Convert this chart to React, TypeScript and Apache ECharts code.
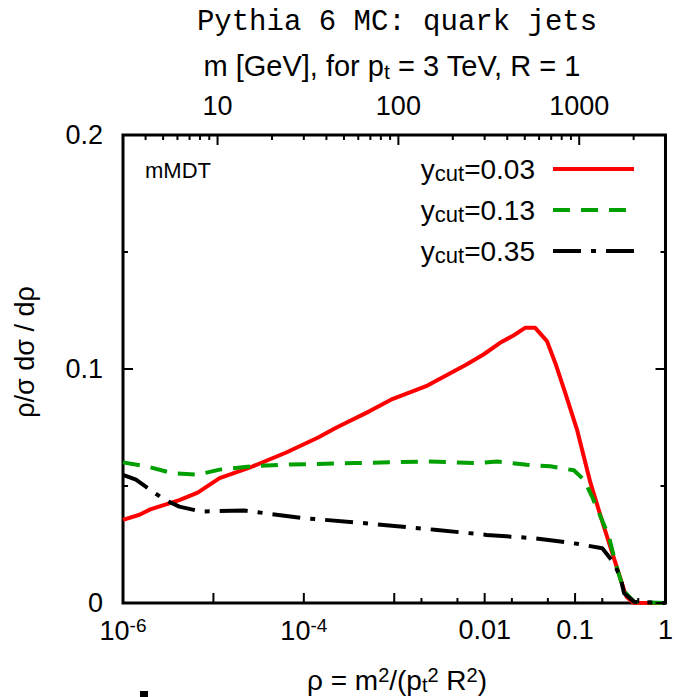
import React, { useEffect, useRef } from 'react';
import * as echarts from 'echarts';

// ---- data (rho = m^2/(pt^2 R^2), value = rho/sigma dsigma/drho) ----
const rhoRed = [1e-6, 1.52e-6, 2.0e-6, 4.2e-6, 6.7e-6, 1.17e-5, 2.46e-5, 6.3e-5, 1.44e-4, 2.3e-4, 5.3e-4, 9.2e-4, 2.33e-3, 6.3e-3, 9.7e-3, 1.48e-2, 2.08e-2, 2.8e-2, 3.62e-2, 4.89e-2, 6.04e-2, 7.8e-2, 0.105, 0.148, 0.208, 0.28, 0.348, 0.37, 0.44, 1];
const valRed = [0.0355, 0.0377, 0.040, 0.044, 0.0472, 0.0534, 0.0577, 0.0642, 0.0707, 0.075, 0.0819, 0.0869, 0.0929, 0.1019, 0.1062, 0.1112, 0.1143, 0.1176, 0.1176, 0.1119, 0.1026, 0.0897, 0.0741, 0.0513, 0.0327, 0.017, 0.0056, 0.0027, 0.0001, 0];

const rhoGreen = [1e-6, 1.83e-6, 3.5e-6, 6.7e-6, 1.17e-5, 2.7e-5, 5.65e-5, 3.66e-4, 2.33e-3, 8.5e-3, 1.36e-2, 2.93e-2, 5.3e-2, 9.7e-2, 0.125, 0.154, 0.191, 0.237, 0.28, 0.348, 0.45, 1];
const valGreen = [0.0601, 0.0584, 0.0555, 0.0548, 0.057, 0.0584, 0.0591, 0.0598, 0.0605, 0.0598, 0.0605, 0.0591, 0.0584, 0.0567, 0.0527, 0.0455, 0.037, 0.0284, 0.017, 0.005, 0.0005, 0];

const rhoBlack = [1e-6, 1.39e-6, 2.88e-6, 4.2e-6, 7.3e-6, 2.2e-5, 9.8e-5, 4.8e-4, 2.8e-3, 1.05e-2, 3.47e-2, 6.88e-2, 0.105, 0.2, 0.27, 0.32, 0.348, 0.45, 1];
const valBlack = [0.0548, 0.0527, 0.0441, 0.0412, 0.0391, 0.0395, 0.0363, 0.0341, 0.0313, 0.0291, 0.0277, 0.0263, 0.0253, 0.0234, 0.017, 0.0105, 0.0042, 0.0005, 0];

const seriesNames = ['0.03', '0.13', '0.35'];

// ---- axis ticks / labels ----
const bottomMajorTicks = [1e-6, 1e-5, 1e-4, 1e-3, 1e-2, 1e-1, 1];
const bottomMinorTicks = [2e-3, 5e-3, 2e-2, 5e-2, 0.2, 0.5];
const bottomLabelValues = [1e-6, 1e-4, 1e-2, 1e-1, 1];
const bottomLabelTexts = ['{b|10}{e|-6}', '{b|10}{e|-4}', '0.01', '0.1', '1'];
const PT = 3000; // GeV
const R = 1;
const topMajorMass = [10, 100, 1000];
const topMinorMass = [4, 5, 6, 7, 8, 9, 20, 30, 40, 50, 60, 70, 80, 90, 200, 300, 400, 500, 600, 700, 800, 900, 2000];
const yMajorTicks = [0, 0.1, 0.2];
const yMinorTicks = [0.05, 0.15];
const yLabels = ['0', '0.1', '0.2'];

const lg = (v: number) => Math.round(Math.log10(v) * 1e9) / 1e9;
const massToLogRho = (m: number) => Math.round(2 * Math.log10(m / (PT * R)) * 1e9) / 1e9;

const FONT = 'Liberation Sans, Arial, sans-serif';
const MAJOR = 10;
const MINOR = 5;

export default function App() {
  const ref = useRef<HTMLDivElement>(null);
  useEffect(() => {
    if (!ref.current) return;
    const chart = echarts.init(ref.current, null, { renderer: 'svg' });
    const bottomLabelLog = bottomLabelValues.map(lg);
    const topLog = topMajorMass.map(massToLogRho);

    // tick marks: [x(log rho), y, dx px, dy px]
    const ticks: number[][] = [];
    bottomMajorTicks.forEach((v) => { ticks.push([lg(v), 0, 0, -MAJOR]); });
    bottomMinorTicks.forEach((v) => { ticks.push([lg(v), 0, 0, -MINOR]); });
    topMajorMass.forEach((m) => { ticks.push([massToLogRho(m), 0.2, 0, MAJOR]); });
    topMinorMass.forEach((m) => { ticks.push([massToLogRho(m), 0.2, 0, MINOR]); });
    yMajorTicks.forEach((y) => { ticks.push([-6, y, MAJOR, 0]); ticks.push([0, y, -MAJOR, 0]); });
    yMinorTicks.forEach((y) => { ticks.push([-6, y, MINOR, 0]); ticks.push([0, y, -MINOR, 0]); });

    const option: any = {
      animation: false,
      grid: { left: 123, right: 8, top: 135, bottom: 94, show: true, borderColor: '#000', borderWidth: 3, backgroundColor: 'transparent' },
      xAxis: [
        {
          type: 'value', position: 'bottom', min: -6, max: 0,
          axisLine: { show: false }, splitLine: { show: false }, axisTick: { show: false },
          axisLabel: {
            show: true, customValues: bottomLabelLog, margin: 13, color: '#000', fontFamily: FONT, fontSize: 27,
            formatter: (v: number) => {
              let idx = 0; let best = Infinity;
              bottomLabelLog.forEach((b, i) => { if (Math.abs(b - v) < best) { best = Math.abs(b - v); idx = i; } });
              return bottomLabelTexts[idx];
            },
            rich: {
              b: { fontSize: 27, lineHeight: 30, fontFamily: FONT, color: '#000' },
              e: { fontSize: 19, lineHeight: 16, verticalAlign: 'top', fontFamily: FONT, color: '#000' },
            },
          },
        },
        {
          type: 'value', position: 'top', min: -6, max: 0,
          axisLine: { show: false }, splitLine: { show: false }, axisTick: { show: false },
          axisLabel: {
            show: true, customValues: topLog, margin: 16, color: '#000', fontFamily: FONT, fontSize: 27,
            formatter: (v: number) => String(Math.round(PT * R * Math.pow(10, v / 2))),
          },
        },
      ],
      yAxis: [
        {
          type: 'value', position: 'left', min: 0, max: 0.2, interval: 0.1,
          axisLine: { show: false }, splitLine: { show: false }, axisTick: { show: false },
          axisLabel: {
            show: true, margin: 20, color: '#000', fontFamily: FONT, fontSize: 27,
            formatter: (v: number) => yLabels[Math.round(v * 10)],
          },
        },
      ],
      legend: {
        orient: 'vertical', right: 40, top: 155, align: 'right', padding: 0,
        itemWidth: 81, itemHeight: 14, itemGap: 12,
        lineStyle: { width: 4 },
        itemStyle: { opacity: 0 },
        textStyle: {
          color: '#000', fontFamily: FONT, fontSize: 28, padding: [0, 13, 0, 0],
          rich: {
            y: { fontSize: 28, lineHeight: 30, fontFamily: FONT, color: '#000' },
            s: { fontSize: 22, lineHeight: 16, verticalAlign: 'bottom', fontFamily: FONT, color: '#000' },
            v: { fontSize: 28, lineHeight: 30, fontFamily: FONT, color: '#000' },
          },
        },
        formatter: (name: string) => '{y|y}{s|cut}{v|=' + name + '}',
        data: seriesNames,
      },
      series: [
        {
          name: seriesNames[0], type: 'line', symbol: 'none', showSymbol: false,
          lineStyle: { color: '#ff0000', width: 4 }, itemStyle: { color: '#ff0000' },
          data: rhoRed.map((r, i) => [Math.log10(r), valRed[i]]), z: 3,
        },
        {
          name: seriesNames[1], type: 'line', symbol: 'none', showSymbol: false,
          lineStyle: { color: '#00a000', width: 4, type: [17, 11] }, itemStyle: { color: '#00a000' },
          data: rhoGreen.map((r, i) => [Math.log10(r), valGreen[i]]), z: 4,
        },
        {
          name: seriesNames[2], type: 'line', symbol: 'none', showSymbol: false,
          lineStyle: { color: '#000000', width: 4, type: [28, 10, 5, 10] }, itemStyle: { color: '#000000' },
          data: rhoBlack.map((r, i) => [Math.log10(r), valBlack[i]]), z: 5,
        },
        {
          name: 'ticks', type: 'custom', z: 6, silent: true, clip: false,
          data: ticks,
          encode: { x: 0, y: 1 },
          renderItem: (params: any, api: any) => {
            const p = api.coord([api.value(0), api.value(1)]);
            return {
              type: 'line',
              shape: { x1: p[0], y1: p[1], x2: p[0] + api.value(2), y2: p[1] + api.value(3) },
              style: { stroke: '#000', lineWidth: 2 },
            };
          },
        },
      ],
      graphic: [
        {
          type: 'text', x: 397, y: 22,
          style: { text: 'Pythia 6 MC: quark jets', font: '29px "Liberation Mono", monospace', fill: '#000', textAlign: 'center', textVerticalAlign: 'middle' },
        },
        {
          type: 'text', x: 392, y: 66,
          style: {
            text: '{a|m [GeV], for p}{s|t}{a| = 3 TeV, R = 1}', textAlign: 'center', textVerticalAlign: 'middle', fill: '#000',
            rich: {
              a: { fontSize: 29, lineHeight: 32, fontFamily: FONT, fill: '#000' },
              s: { fontSize: 21, lineHeight: 16, verticalAlign: 'bottom', fontFamily: FONT, fill: '#000' },
            },
          },
        },
        {
          type: 'text', x: 145, y: 170,
          style: { text: 'mMDT', font: '22px "Liberation Sans", Arial, sans-serif', fill: '#000', textAlign: 'left', textVerticalAlign: 'middle' },
        },
        {
          type: 'text', x: 397, y: 680,
          style: {
            text: '{a|ρ = m}{p|2}{a|/(p}{s|t}{p|2}{a| R}{p|2}{a|)}', textAlign: 'center', textVerticalAlign: 'middle', fill: '#000',
            rich: {
              a: { fontSize: 28, lineHeight: 30, fontFamily: FONT, fill: '#000' },
              p: { fontSize: 20, lineHeight: 16, verticalAlign: 'top', fontFamily: FONT, fill: '#000' },
              s: { fontSize: 20, lineHeight: 16, verticalAlign: 'bottom', fontFamily: FONT, fill: '#000' },
            },
          },
        },
        {
          type: 'text', x: 25, y: 352, rotation: Math.PI / 2,
          style: { text: 'ρ/σ dσ / dρ', font: '27px "Liberation Sans", Arial, sans-serif', fill: '#000', textAlign: 'center', textVerticalAlign: 'middle' },
        },
        {
          type: 'rect', shape: { x: 140, y: 691, width: 8, height: 6 }, style: { fill: '#000' },
        },
      ],
    };
    chart.setOption(option);
    return () => chart.dispose();
  }, []);
  return <div ref={ref} style={{ width: 676, height: 697, position: 'absolute', left: 0, top: 0 }} />;
}
